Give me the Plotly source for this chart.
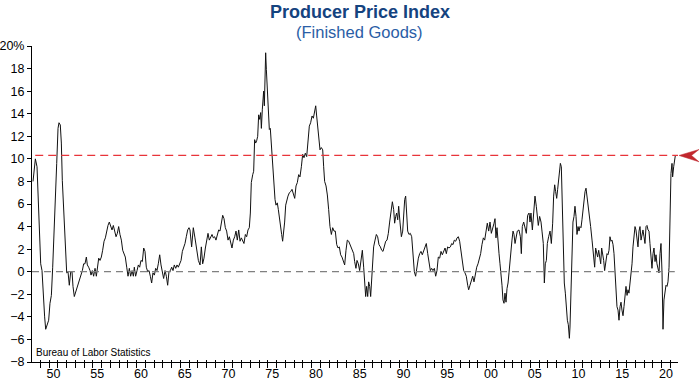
import plotly.graph_objects as go

# decimal years (x) and year-over-year % change (y)
dates = [
    1948.16, 1948.43, 1948.62, 1948.73, 1948.92, 1949.04, 1949.19, 1949.30, 1949.49, 1949.61,
    1949.76, 1949.95, 1950.10, 1950.26, 1950.41, 1950.56, 1950.71, 1950.87, 1951.02, 1951.13,
    1951.28, 1951.40, 1951.51, 1951.63, 1951.74, 1951.86, 1952.01, 1952.16, 1952.31, 1952.47,
    1952.62, 1952.73, 1952.88, 1953.04, 1953.23, 1953.42, 1953.61, 1953.80, 1953.95, 1954.10,
    1954.26, 1954.37, 1954.52, 1954.68, 1954.79, 1954.94, 1955.09, 1955.25, 1955.40, 1955.51,
    1955.67, 1955.82, 1955.97, 1956.12, 1956.28, 1956.43, 1956.58, 1956.73, 1956.88, 1957.04,
    1957.19, 1957.34, 1957.49, 1957.65, 1957.80, 1957.95, 1958.10, 1958.26, 1958.41, 1958.56,
    1958.71, 1958.87, 1959.02, 1959.17, 1959.32, 1959.48, 1959.63, 1959.74, 1959.89, 1960.05,
    1960.20, 1960.35, 1960.50, 1960.66, 1960.81, 1960.96, 1961.11, 1961.27, 1961.42, 1961.57,
    1961.72, 1961.87, 1962.03, 1962.18, 1962.33, 1962.48, 1962.64, 1962.79, 1962.94, 1963.09,
    1963.25, 1963.40, 1963.55, 1963.70, 1963.86, 1964.01, 1964.16, 1964.31, 1964.47, 1964.62,
    1964.77, 1964.92, 1965.08, 1965.23, 1965.38, 1965.53, 1965.68, 1965.84, 1965.99,
    1966.10, 1966.29, 1966.48, 1966.67, 1966.87, 1967.06, 1967.25, 1967.40, 1967.55, 1967.70,
    1967.86, 1968.01, 1968.16, 1968.31, 1968.47, 1968.62, 1968.77, 1968.92, 1969.07, 1969.23,
    1969.38, 1969.53, 1969.68, 1969.84, 1969.99, 1970.14, 1970.29, 1970.45, 1970.60, 1970.75,
    1970.90, 1971.06, 1971.21, 1971.36, 1971.51, 1971.67, 1971.82, 1971.97, 1972.12, 1972.27,
    1972.43, 1972.58, 1972.73, 1972.88, 1973.00, 1973.11, 1973.27, 1973.38, 1973.49, 1973.61,
    1973.72, 1973.84, 1973.95, 1974.07, 1974.18, 1974.26, 1974.37, 1974.45, 1974.52, 1974.60,
    1974.67, 1974.75, 1974.83, 1974.90, 1974.98, 1975.09, 1975.17, 1975.28, 1975.36, 1975.47,
    1975.59, 1975.70, 1975.82, 1975.93, 1976.08, 1976.20, 1976.31, 1976.47, 1976.58, 1976.69,
    1976.81, 1976.92, 1977.04, 1977.15, 1977.30, 1977.46, 1977.61, 1977.76, 1977.91, 1978.07,
    1978.22, 1978.37, 1978.52, 1978.67, 1978.83, 1978.98, 1979.13, 1979.28, 1979.44, 1979.59,
    1979.74, 1979.89, 1980.05, 1980.20, 1980.35, 1980.47, 1980.58, 1980.69, 1980.81, 1980.96,
    1981.11, 1981.27, 1981.38, 1981.49, 1981.65, 1981.80, 1981.95, 1982.10, 1982.26, 1982.41,
    1982.56, 1982.71, 1982.87, 1983.02, 1983.17, 1983.32, 1983.47, 1983.63, 1983.78, 1983.93,
    1984.08, 1984.24, 1984.39, 1984.54,
    1984.62, 1984.81, 1984.92, 1985.07, 1985.19, 1985.34, 1985.49, 1985.65, 1985.80, 1985.95,
    1986.07, 1986.18, 1986.29, 1986.41, 1986.52, 1986.64, 1986.75, 1986.87, 1986.98, 1987.09,
    1987.25, 1987.40, 1987.55, 1987.70, 1987.86, 1988.01, 1988.16, 1988.31, 1988.47, 1988.62,
    1988.77, 1988.92, 1989.07, 1989.23, 1989.38, 1989.49, 1989.61, 1989.72, 1989.84, 1989.95,
    1990.10, 1990.26, 1990.41, 1990.52, 1990.64, 1990.75, 1990.87, 1990.98, 1991.13, 1991.28,
    1991.44, 1991.59, 1991.74, 1991.89, 1992.05, 1992.20, 1992.35, 1992.50, 1992.65, 1992.81,
    1992.96, 1993.11, 1993.27, 1993.42, 1993.57, 1993.72, 1993.87, 1994.03, 1994.18, 1994.33,
    1994.48, 1994.64, 1994.79, 1994.94, 1995.09, 1995.25, 1995.40, 1995.55, 1995.70, 1995.86,
    1996.01, 1996.16, 1996.31, 1996.47, 1996.62, 1996.77, 1996.92, 1997.07, 1997.23, 1997.38,
    1997.53, 1997.68, 1997.84, 1997.95, 1998.10, 1998.26, 1998.41, 1998.56, 1998.71, 1998.87,
    1999.02, 1999.17, 1999.32, 1999.47, 1999.63, 1999.78, 1999.93, 2000.08, 2000.24, 2000.39,
    2000.54, 2000.69, 2000.85, 2000.96, 2001.07, 2001.19, 2001.30, 2001.42, 2001.53, 2001.65,
    2001.76, 2001.87, 2001.99, 2002.10, 2002.22, 2002.33, 2002.45, 2002.56, 2002.67, 2002.79,
    2002.90, 2003.02, 2003.13, 2003.25, 2003.36,
    2003.51, 2003.70, 2003.86, 2003.97, 2004.08, 2004.24, 2004.39, 2004.54, 2004.69, 2004.85,
    2004.96, 2005.07, 2005.23, 2005.38, 2005.53, 2005.68, 2005.80, 2005.91, 2006.06, 2006.22,
    2006.33, 2006.48, 2006.60, 2006.71, 2006.83, 2006.94, 2007.09, 2007.25, 2007.40, 2007.55,
    2007.66, 2007.78, 2007.89, 2008.01, 2008.12, 2008.27, 2008.43, 2008.54, 2008.65, 2008.77,
    2008.88, 2009.00, 2009.11, 2009.23, 2009.34, 2009.46, 2009.53, 2009.65, 2009.76, 2009.87,
    2009.99, 2010.10, 2010.22, 2010.33, 2010.45, 2010.56, 2010.67, 2010.79, 2010.90, 2011.02,
    2011.13, 2011.25, 2011.36, 2011.47, 2011.59, 2011.74, 2011.89, 2012.05, 2012.20, 2012.35,
    2012.46, 2012.58, 2012.69, 2012.81, 2012.92, 2013.04, 2013.15, 2013.26, 2013.38, 2013.49,
    2013.65, 2013.76, 2013.87, 2013.99, 2014.10, 2014.22, 2014.33, 2014.45, 2014.56, 2014.67,
    2014.79, 2014.90, 2015.02, 2015.13, 2015.25, 2015.36, 2015.47, 2015.59, 2015.70, 2015.82,
    2015.93, 2016.05, 2016.16, 2016.27, 2016.39, 2016.50, 2016.62, 2016.73, 2016.85, 2016.96,
    2017.07, 2017.19, 2017.30, 2017.42, 2017.53, 2017.65, 2017.76, 2017.87, 2017.99, 2018.10,
    2018.22, 2018.33, 2018.45, 2018.56, 2018.67, 2018.79, 2018.90, 2019.02, 2019.13, 2019.25,
    2019.36, 2019.47, 2019.59, 2019.70, 2019.82, 2019.93, 2020.05, 2020.16, 2020.27, 2020.39,
    2020.50, 2020.62, 2020.73, 2020.85, 2020.96, 2021.07, 2021.19, 2021.26, 2021.38, 2021.49,
    2021.57,
]

ppi_yoy = [
    8.0, 10.0, 9.3, 7.0, 2.8, 0.7, 0.1, -1.9, -4.0, -5.1,
    -4.7, -4.3, -2.8, -2.1, 0.4, 4.0, 5.8, 9.6, 12.7, 13.2,
    13.0, 11.4, 8.1, 6.1, 5.2, 2.2, -0.1, 0.0, -1.2, 0.0,
    0.0, -1.3, -2.2, -1.8, -1.3, -1.0, -0.3, 0.1, 0.7, 0.7,
    1.3, 0.6, 0.4, 0.1, -0.3, 0.1, -0.4, 0.3, -0.4, 0.3,
    1.2, 1.0, 1.3, 1.9, 2.7, 3.0, 3.6, 4.1, 4.4, 4.1,
    3.7, 4.1, 3.6, 3.1, 3.4, 4.0, 3.3, 2.8, 1.9, 1.6,
    1.3, 0.4, -0.4, 0.3, -0.4, 0.1, -0.4, 0.4, -0.4, 0.1,
    0.6, 0.4, 1.0, 0.9, 2.1, 1.8, 0.4, 0.0, 0.1, -0.4,
    -1.0, -0.1, -0.3, 0.3, 0.1, 0.7, 1.5, 0.6, 0.1, -0.6,
    0.1, -0.4, -1.2, 0.0, 0.1, 0.4, 0.1, 0.6, 0.3, 0.6,
    0.4, 0.7, 1.0, 1.8, 2.1, 2.5, 3.1, 3.7, 3.9,
    3.7, 2.2, 3.9, 3.0, 1.9, 1.0, 0.6, 2.2, 0.7, 1.2,
    2.1, 2.7, 3.4, 2.8, 3.1, 3.3, 3.0, 3.1, 2.8, 3.3,
    3.7, 3.6, 4.3, 5.0, 4.7, 3.9, 3.6, 2.8, 3.1, 2.5,
    2.1, 2.8, 3.1, 3.6, 2.8, 3.7, 2.7, 3.0, 2.7, 2.5,
    3.3, 3.1, 3.7, 3.9, 5.2, 7.9, 8.6, 8.9, 11.7, 11.4,
    11.6, 12.0, 13.9, 13.5, 14.1, 12.7, 14.4, 15.0, 16.0, 14.7,
    17.6, 19.4, 17.9, 16.7, 15.0, 13.5, 12.6, 12.7, 11.7, 10.5,
    9.0, 7.6, 6.4, 5.9, 6.1, 5.5, 4.7, 3.9, 3.3, 2.7,
    3.4, 4.4, 5.9, 6.4, 6.7, 7.0, 7.1, 7.3, 6.8, 6.5,
    7.6, 7.9, 8.6, 8.4, 9.3, 10.4, 10.1, 10.5, 10.2, 11.4,
    12.9, 13.2, 13.8, 13.6, 14.2, 14.7, 13.8, 12.7, 11.7, 10.8,
    11.0, 10.8, 9.3, 8.0, 7.6, 6.8, 5.5, 4.0, 3.3, 3.9,
    3.6, 3.6, 2.4, 2.1, 2.2, 1.5, 1.3, 1.0, 0.6, 1.9,
    2.8, 2.7, 2.4, 2.1,
    1.9, 1.6, 0.9, 0.3, 1.0, 0.7, 0.1, 1.0, 1.9, 0.4,
    -1.2, -2.2, -1.3, -2.2, -0.9, -1.3, -2.2, -0.7, 0.7, 2.2,
    2.8, 3.3, 3.1, 2.4, 2.2, 1.9, 1.8, 2.2, 2.7, 2.8,
    3.4, 4.4, 5.5, 6.2, 5.5, 4.3, 4.9, 5.2, 4.6, 5.8,
    4.4, 3.1, 3.6, 5.5, 6.4, 6.7, 5.2, 3.6, 3.3, 3.4,
    3.1, 1.6, 0.0, -0.4, 0.7, 1.2, 1.6, 1.8, 1.5, 1.9,
    2.2, 2.5, 1.6, 0.7, 0.1, 0.3, 0.1, 0.3, -0.4, 0.1,
    1.3, 1.2, 1.8, 1.5, 1.9, 2.1, 1.6, 2.2, 2.1, 2.2,
    2.5, 2.4, 2.8, 2.7, 3.0, 3.1, 2.7, 1.8, 0.7, 0.1,
    -0.1, -0.4, -1.2, -1.6, -1.2, -0.7, -0.4, -0.9, -0.1, 0.4,
    0.7, 1.2, 1.6, 2.4, 3.0, 2.8, 3.4, 4.3, 3.6, 4.4,
    3.4, 4.0, 4.3, 4.7, 3.0, 3.9, 2.2, 1.6, 0.7, -0.1,
    -1.2, -2.5, -2.8, -1.9, -2.7, -1.5, -1.0, -0.1, 1.0, 1.6,
    2.8, 3.6, 3.3, 2.5, 3.1,
    3.6, 3.7, 3.1, 1.6, 4.0, 4.4, 3.7, 3.4, 5.0, 5.2,
    4.4, 5.2, 3.7, 4.9, 6.7, 5.8, 4.6, 4.1, 4.9, 4.4,
    3.6, 2.5, -1.0, 0.7, 1.0, 2.5, 3.1, 3.6, 2.5, 4.3,
    6.7, 7.7, 7.1, 6.5, 7.3, 8.7, 9.6, 9.3, 6.1, 2.2,
    -1.0, -1.9, -3.4, -4.3, -4.7, -5.9, -4.9, -2.2, 1.3, 4.4,
    4.9, 5.8, 4.9, 3.3, 4.0, 3.6, 4.0, 3.9, 4.6, 5.5,
    6.7, 7.1, 7.4, 6.7, 6.4, 5.2, 4.0, 2.8, 1.3, 0.4,
    2.1, 1.6, 1.3, 1.9, 1.3, 0.7, 2.1, 1.6, 1.0, 0.1,
    1.0, 1.6, 1.5, 1.9, 3.1, 2.7, 2.8, 2.4, 1.6, 0.1,
    -1.6, -3.1, -3.4, -4.3, -3.1, -2.7, -3.4, -3.9, -3.1, -2.2,
    -1.3, -2.1, -1.6, -1.9, -1.0, 0.1, 0.7, 2.2, 3.4, 4.0,
    3.7, 2.5, 2.2, 3.6, 4.0, 2.8, 3.3, 3.7, 3.1, 2.5,
    4.0, 4.1, 3.7, 3.6, 2.5, 1.0, 0.3, 1.6, 2.1, 0.9,
    1.5, 0.7, 0.4, -0.1, 1.6, 2.5, -0.1, -5.1, -2.5, -1.9,
    -1.2, -1.3, -0.9, 0.4, 3.4, 8.7, 9.6, 8.4, 9.3, 10.1,
    10.3,
]

latest_value = 10.3

y_tick_vals = list(range(-8, 21, 2))
y_tick_text = [("20%" if v == 20 else (str(v) if v >= 0 else "\u2212" + str(-v))) for v in y_tick_vals]

x_label_years = list(range(1950, 2021, 5))
x_tick_text = ["%02d" % (y % 100) for y in x_label_years]

FONT = "Liberation Sans, Arial, Helvetica, sans-serif"
X_RANGE = [1948.046, 2021.874]

fig = go.Figure()
fig.add_trace(go.Scatter(
    x=dates, y=ppi_yoy, mode="lines",
    line=dict(color="#111111", width=1),
    hoverinfo="skip", showlegend=False,
))
# dummy traces to activate overlay tick axes
fig.add_trace(go.Scatter(x=[X_RANGE[0]], y=[None], xaxis="x2", showlegend=False, hoverinfo="skip"))
fig.add_trace(go.Scatter(x=[X_RANGE[0]], y=[None], xaxis="x3", showlegend=False, hoverinfo="skip"))

fig.update_layout(
    width=700, height=380,
    margin=dict(l=32, r=22, t=46, b=18, pad=0, autoexpand=False),
    paper_bgcolor="white", plot_bgcolor="white",
    font=dict(family=FONT, size=13, color="black"),
    showlegend=False,
    xaxis=dict(
        range=X_RANGE, automargin=False,
        tickmode="array",
        tickvals=[y + 0.5 for y in x_label_years],
        ticktext=x_tick_text,
        ticks="outside", ticklen=0, tickcolor="rgba(0,0,0,0)",
        showline=True, linecolor="black", linewidth=1,
        showgrid=False, zeroline=False,
        tickfont=dict(family=FONT, size=12.5, color="black"),
    ),
    xaxis2=dict(
        range=X_RANGE, overlaying="x", anchor="y", side="bottom", automargin=False,
        tickmode="linear", tick0=0, dtick=1,
        ticks="outside", ticklen=5, tickcolor="black", tickwidth=1,
        showticklabels=False, showline=False, showgrid=False, zeroline=False,
    ),
    xaxis3=dict(
        range=X_RANGE, overlaying="x", anchor="y", side="bottom", automargin=False,
        tickmode="linear", tick0=0, dtick=1,
        ticks="inside", ticklen=2, tickcolor="black", tickwidth=1,
        showticklabels=False, showline=False, showgrid=False, zeroline=False,
    ),
    yaxis=dict(
        range=[-8, 20], automargin=False,
        tickmode="array", tickvals=y_tick_vals, ticktext=y_tick_text,
        ticks="outside", ticklen=4, tickcolor="black",
        showline=True, linecolor="black", linewidth=1,
        showgrid=False, zeroline=False,
        tickfont=dict(family=FONT, size=12.5, color="black"),
    ),
    shapes=[
        dict(type="line", xref="paper", yref="y", x0=0, x1=0.995, y0=0, y1=0,
             line=dict(color="#808080", width=1.2, dash="7px,5px")),
        dict(type="line", xref="paper", yref="y", x0=0.005, x1=1.0, y0=latest_value, y1=latest_value,
             line=dict(color="#e8343a", width=1.2, dash="8px,5px")),
        dict(type="path", xref="paper", yref="paper",
             path="M 1.0016 0.6536 L 1.0325 0.6725 L 1.0209 0.6536 L 1.0325 0.6336 Z",
             fillcolor="#c1272d", line=dict(color="#c1272d", width=0.5)),
    ],
    annotations=[
        dict(text="<b>Producer Price Index</b>", xref="paper", yref="paper",
             x=0.5077, y=1.1076, xanchor="center", yanchor="middle", showarrow=False,
             font=dict(family=FONT, size=18, color="#15437f")),
        dict(text="(Finished Goods)", xref="paper", yref="paper",
             x=0.5077, y=1.0443, xanchor="center", yanchor="middle", showarrow=False,
             font=dict(family=FONT, size=16.5, color="#2a5ea6")),
        dict(text="Bureau of Labor Statistics", xref="paper", yref="paper",
             x=0.003, y=0.0285, xanchor="left", yanchor="middle", showarrow=False,
             font=dict(family=FONT, size=10, color="black")),
    ],
)

# remove the default page margin so the 700x380 figure fills the window exactly
fig.write_html(
    "out.html",
    config={"displayModeBar": False, "staticPlot": True},
    post_script="document.body.style.margin='0px';document.body.style.overflow='hidden';",
)
